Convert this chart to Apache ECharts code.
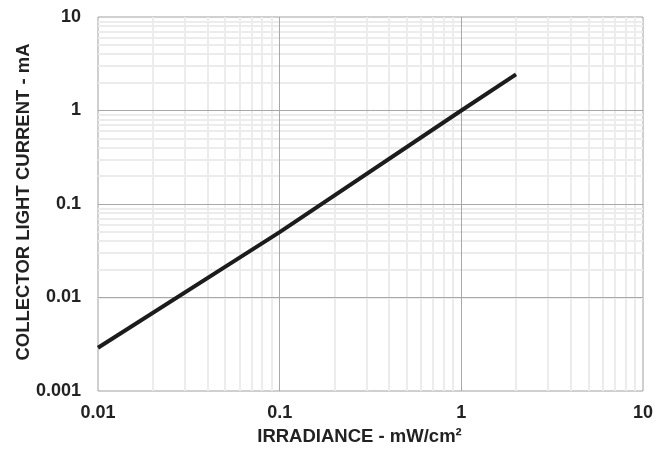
<!DOCTYPE html>
<html><head><meta charset="utf-8">
<script src="https://cdn.jsdelivr.net/npm/echarts@6/dist/echarts.min.js"></script>
<style>html,body{margin:0;padding:0;background:#fff}#c{width:667px;height:449px}</style>
</head><body><div id="c"></div>
<script>
var irradiance = [0.01, 0.1, 1, 2];
var current = [0.0029, 0.05, 1, 2.43];
var xTicks = [0.01, 0.1, 1, 10];
var yTicks = [0.001, 0.01, 0.1, 1, 10];
var xMinor = [0.02,0.03,0.04,0.05,0.06,0.07,0.08,0.09,0.2,0.3,0.4,0.5,0.6,0.7,0.8,0.9,2,3,4,5,6,7,8,9];
var yMinor = [0.002,0.003,0.004,0.005,0.006,0.007,0.008,0.009,0.02,0.03,0.04,0.05,0.06,0.07,0.08,0.09,0.2,0.3,0.4,0.5,0.6,0.7,0.8,0.9,2,3,4,5,6,7,8,9];
var xMajorInner = [0.1, 1];
var yMajorInner = [0.01, 0.1, 1];

var minorStyle = {color: '#ececec', width: 2, type: 'solid'};
var majorStyle = {color: '#a8a8a8', width: 1, type: 'solid'};
var ml = [];
xMinor.forEach(function(v){ ml.push({xAxis: v, lineStyle: minorStyle}); });
yMinor.forEach(function(v){ ml.push({yAxis: v, lineStyle: minorStyle}); });
xMajorInner.forEach(function(v){ ml.push({xAxis: v, lineStyle: majorStyle}); });
yMajorInner.forEach(function(v){ ml.push({yAxis: v, lineStyle: majorStyle}); });

var fmt = function(v){ return String(+v.toPrecision(3)); };
var font = 'Liberation Sans';
var chart = echarts.init(document.getElementById('c'));
chart.setOption({
  animation: false,
  backgroundColor: '#fff',
  grid: {left: 98, right: 24, top: 17, bottom: 58, show: true, borderColor: '#a0a0a0', borderWidth: 1, containLabel: false, outerBoundsMode: 'none'},
  xAxis: {
    type: 'log', min: xTicks[0], max: xTicks[xTicks.length-1], logBase: 10,
    name: 'IRRADIANCE - mW/cm²', nameLocation: 'middle', nameGap: 36, nameMoveOverlap: false,
    nameTextStyle: {fontFamily: font, fontWeight: 'bold', fontSize: 18.5, color: '#222', padding: [0, 22, 0, 0]},
    axisLine: {show: false}, axisTick: {show: false}, splitLine: {show: false},
    axisLabel: {fontFamily: font, fontWeight: 'bold', fontSize: 18, color: '#222', margin: 13, formatter: fmt}
  },
  yAxis: {
    type: 'log', min: yTicks[0], max: yTicks[yTicks.length-1], logBase: 10,
    name: 'COLLECTOR LIGHT CURRENT - mA', nameLocation: 'middle', nameGap: 65, nameMoveOverlap: false,
    nameTextStyle: {fontFamily: font, fontWeight: 'bold', fontSize: 18.5, color: '#222', padding: [0, 0, 0, 4]},
    axisLine: {show: false}, axisTick: {show: false}, splitLine: {show: false},
    axisLabel: {fontFamily: font, fontWeight: 'bold', fontSize: 18, color: '#222', margin: 17, formatter: fmt}
  },
  series: [{
    type: 'line',
    data: irradiance.map(function(x, i){ return [x, current[i]]; }),
    symbol: 'none',
    lineStyle: {color: '#1c1c1c', width: 4},
    z: 5,
    markLine: {silent: true, symbol: 'none', label: {show: false}, animation: false, z: 1, data: ml}
  }]
});
</script></body></html>
